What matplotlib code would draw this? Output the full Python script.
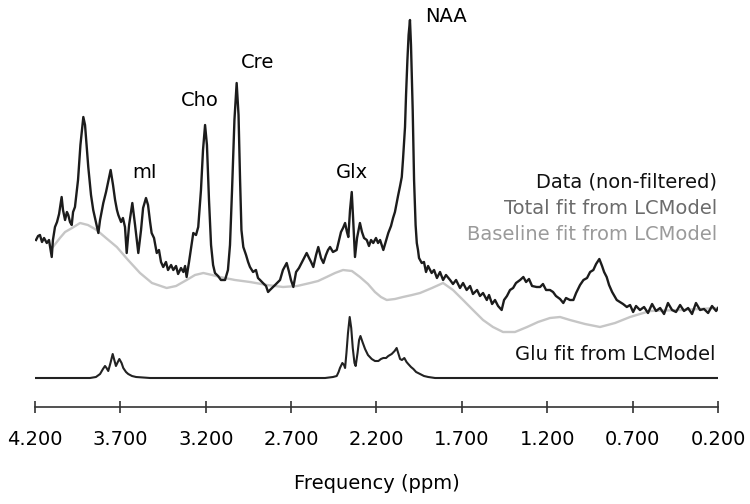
import matplotlib
matplotlib.use("Agg")
import matplotlib.pyplot as plt

# spectrum (ppm, arbitrary units)
data_ppm = [4.194, 4.182, 4.171, 4.159, 4.147, 4.131, 4.118, 4.102, 4.095, 4.083,
            4.071, 4.059, 4.044, 4.036, 4.024, 4.013, 4.005, 3.995, 3.985, 3.977,
            3.966, 3.948, 3.934, 3.917, 3.907, 3.888, 3.872, 3.859, 3.843, 3.829,
            3.819, 3.800, 3.784, 3.772, 3.757, 3.743, 3.731, 3.720, 3.712, 3.696,
            3.685, 3.673, 3.663, 3.649, 3.630, 3.614, 3.595, 3.579, 3.567, 3.550,
            3.538, 3.526, 3.517, 3.503, 3.487, 3.474, 3.462, 3.449, 3.433, 3.421,
            3.403, 3.390, 3.374, 3.362, 3.345, 3.331, 3.321, 3.312, 3.298, 3.286,
            3.273, 3.257, 3.244, 3.228, 3.216, 3.204, 3.193, 3.181, 3.169, 3.157,
            3.146, 3.128, 3.111, 3.087, 3.070, 3.058, 3.046, 3.032, 3.019, 3.008,
            2.999, 2.991, 2.980, 2.964, 2.952, 2.941, 2.923, 2.906, 2.894, 2.882,
            2.865, 2.847, 2.835, 2.824, 2.812, 2.794, 2.777, 2.765, 2.748, 2.726,
            2.712, 2.701, 2.687, 2.671, 2.654, 2.636, 2.624, 2.609, 2.595, 2.583,
            2.570, 2.554, 2.541, 2.525, 2.511, 2.496, 2.484, 2.472, 2.455, 2.433,
            2.419, 2.408, 2.396, 2.384, 2.373, 2.365, 2.355, 2.345, 2.338, 2.326,
            2.314, 2.297, 2.285, 2.273, 2.257, 2.244, 2.232, 2.219, 2.203, 2.191,
            2.179, 2.160, 2.150, 2.131, 2.115, 2.103, 2.092, 2.082, 2.074, 2.062,
            2.052, 2.045, 2.033, 2.027, 2.019, 2.012, 2.004, 1.998, 1.988, 1.980,
            1.971, 1.964, 1.957, 1.951, 1.935, 1.922, 1.910, 1.898, 1.877, 1.863,
            1.846, 1.828, 1.810, 1.793, 1.769, 1.752, 1.734, 1.711, 1.693, 1.672,
            1.652, 1.635, 1.611, 1.594, 1.576, 1.554, 1.541, 1.523, 1.506, 1.488,
            1.467, 1.453, 1.436, 1.418, 1.400, 1.383, 1.359, 1.340, 1.324, 1.307,
            1.289, 1.262, 1.242, 1.225, 1.207, 1.184, 1.166, 1.149, 1.125, 1.106,
            1.090, 1.067, 1.047, 1.031, 1.008, 0.988, 0.967, 0.949, 0.930, 0.914,
            0.895, 0.879, 0.867, 0.852, 0.838, 0.820, 0.793, 0.774, 0.756, 0.734,
            0.715, 0.697, 0.680, 0.657, 0.633, 0.610, 0.586, 0.563, 0.539, 0.516,
            0.493, 0.469, 0.446, 0.422, 0.399, 0.375, 0.352, 0.329, 0.305, 0.282,
            0.258, 0.235, 0.211, 0.200]
data_int = [138, 142, 143, 136, 140, 135, 138, 121, 138, 151,
            156, 164, 181, 168, 158, 166, 163, 156, 153, 166,
            171, 198, 233, 261, 253, 211, 183, 168, 156, 145,
            158, 175, 186, 196, 208, 193, 178, 168, 163, 156,
            160, 151, 125, 153, 175, 153, 125, 148, 170, 180,
            173, 156, 145, 140, 125, 128, 116, 111, 116, 108,
            113, 108, 112, 104, 110, 106, 112, 101, 116, 130,
            145, 143, 151, 188, 228, 253, 233, 178, 133, 113,
            105, 102, 98, 98, 108, 133, 188, 258, 295, 263,
            198, 148, 131, 123, 116, 111, 106, 108, 100, 98,
            95, 92, 86, 88, 90, 93, 96, 98, 108, 115,
            106, 98, 91, 106, 110, 116, 120, 125, 120, 116,
            111, 123, 131, 120, 115, 123, 128, 131, 126, 128,
            138, 146, 150, 155, 146, 141, 168, 186, 163, 121,
            140, 155, 146, 140, 138, 132, 138, 135, 140, 135,
            138, 128, 134, 145, 152, 160, 166, 175, 182, 192,
            201, 218, 251, 283, 318, 343, 358, 333, 268, 198,
            153, 135, 128, 120, 115, 116, 106, 112, 105, 108,
            100, 106, 98, 103, 98, 94, 98, 90, 95, 88,
            92, 84, 88, 82, 85, 78, 83, 74, 78, 72,
            68, 78, 82, 88, 90, 95, 98, 101, 96, 99,
            92, 91, 91, 94, 88, 88, 86, 82, 79, 75,
            80, 78, 78, 85, 93, 98, 100, 106, 108, 114,
            119, 112, 106, 101, 93, 86, 78, 76, 74, 71,
            73, 66, 72, 68, 71, 65, 74, 67, 70, 64,
            75, 68, 66, 73, 67, 70, 64, 75, 68, 69,
            65, 72, 67, 70]

# LCModel baseline
base_ppm = [4.095, 4.054, 4.024, 3.983, 3.936, 3.890, 3.839, 3.784, 3.721, 3.655,
            3.585, 3.515, 3.429, 3.374, 3.312, 3.263, 3.214, 3.163, 3.117, 3.029,
            2.941, 2.841, 2.748, 2.665, 2.589, 2.542, 2.492, 2.443, 2.396, 2.344,
            2.297, 2.250, 2.209, 2.174, 2.140, 2.092, 2.045, 1.992, 1.945, 1.875,
            1.810, 1.752, 1.693, 1.635, 1.576, 1.518, 1.459, 1.389, 1.318, 1.254,
            1.184, 1.125, 1.067, 0.979, 0.891, 0.803, 0.715, 0.657, 0.598, 0.422,
            0.200]
base_int = [131, 140, 146, 150, 155, 153, 148, 140, 131, 118,
            105, 95, 90, 92, 98, 103, 105, 103, 101, 98,
            96, 93, 91, 92, 95, 97, 101, 105, 108, 107,
            101, 94, 86, 81, 78, 79, 81, 83, 85, 90,
            95, 88, 78, 68, 58, 51, 46, 46, 51, 56,
            60, 61, 58, 54, 51, 55, 61, 64, 67, 68,
            70]

# LCModel Glu fit
glu_ppm = [4.200, 3.878, 3.843, 3.819, 3.802, 3.790, 3.781, 3.771, 3.758, 3.745,
           3.734, 3.726, 3.715, 3.706, 3.693, 3.683, 3.667, 3.654, 3.632, 3.608,
           3.526, 2.501, 2.455, 2.433, 2.422, 2.414, 2.400, 2.390, 2.384, 2.376,
           2.367, 2.357, 2.348, 2.339, 2.329, 2.322, 2.311, 2.302, 2.294, 2.282,
           2.267, 2.250, 2.228, 2.209, 2.189, 2.174, 2.160, 2.144, 2.131, 2.111,
           2.094, 2.082, 2.071, 2.062, 2.051, 2.037, 2.024, 2.014, 1.998, 1.984,
           1.968, 1.945, 1.922, 1.897, 1.857, 0.200]
glu_int = [0, 0, 1, 4, 9, 12, 10, 7, 15, 24,
           17, 12, 16, 19, 15, 10, 6, 4, 2, 1,
           0, 0, 1, 2, 6, 10, 15, 13, 10, 25,
           45, 61, 50, 30, 15, 12, 25, 38, 42, 36,
           29, 23, 19, 17, 17, 19, 20, 20, 22, 24,
           27, 30, 24, 19, 18, 20, 16, 14, 11, 9,
           6, 4, 2, 1, 0, 0]

tick_ppm = [4.2, 3.7, 3.2, 2.7, 2.2, 1.7, 1.2, 0.7, 0.2]
tick_labels = ["%.3f" % t for t in tick_ppm]

peak_names = ["NAA", "Cre", "Cho", "mI", "Glx"]
peak_ppm = [1.793, 2.894, 3.234, 3.556, 2.343]
peak_y = [361, 316, 277, 206, 206]

fig = plt.figure(figsize=(7.5, 5.04), dpi=100)
ax = fig.add_axes([35 / 750, 97 / 504, 683 / 750, 407 / 504])

ax.plot(base_ppm, base_int, color="#c6c6c6", lw=1.7)
ax.plot(data_ppm, data_int, color="#1c1c1c", lw=1.7)
ax.plot(glu_ppm, glu_int, color="#222222", lw=1.5)

ax.set_xlim(4.2, 0.2)
ax.set_ylim(-29, 378)

for s in ["top", "left", "right"]:
    ax.spines[s].set_visible(False)
ax.spines["bottom"].set_color("#333333")
ax.spines["bottom"].set_linewidth(1.2)
ax.set_yticks([])
ax.set_xticks(tick_ppm)
ax.set_xticklabels(tick_labels)
ax.tick_params(axis="x", direction="inout", length=9, width=1.2,
               color="#333333", labelsize=14, pad=12)
ax.set_xlabel("Frequency (ppm)", fontsize=14, labelpad=18)

for name, px, py in zip(peak_names, peak_ppm, peak_y):
    ax.text(px, py, name, fontsize=14, ha="center", va="center")

ax.text(0.207, 196, "Data (non-filtered)", fontsize=14, ha="right", va="center", color="#111111")
ax.text(0.207, 170, "Total fit from LCModel", fontsize=14, ha="right", va="center", color="#6b6b6b")
ax.text(0.207, 143, "Baseline fit from LCModel", fontsize=14, ha="right", va="center", color="#9a9a9a")
ax.text(0.212, 24, "Glu fit from LCModel", fontsize=14, ha="right", va="center", color="#111111")

fig.savefig("out.png", dpi=100)
